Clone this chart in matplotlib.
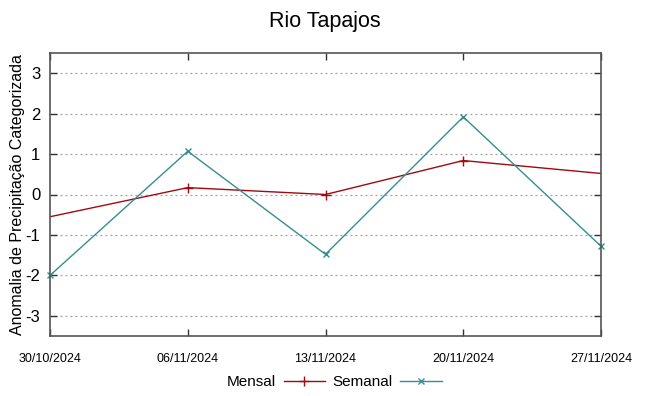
import matplotlib
matplotlib.use("Agg")
import matplotlib.pyplot as plt
import numpy as np
from datetime import datetime

plt.rcParams['font.family'] = ['Liberation Sans', 'DejaVu Sans']

dates = ["30/10/2024", "06/11/2024", "13/11/2024", "20/11/2024", "27/11/2024"]
mensal = [-0.55, 0.17, 0.0, 0.84, 0.52]
semanal = [-2.0, 1.07, -1.48, 1.92, -1.28]
yticks = [-3, -2, -1, 0, 1, 2, 3]

x = [datetime.strptime(d, "%d/%m/%Y") for d in dates]

fig = plt.figure(figsize=(6.49, 3.96), dpi=100)
ax = fig.add_axes([50/649, 60/396, 551/649, 283/396])

ax.plot(x, mensal, color='#a00a10', lw=1.0, marker='+', ms=6.5, mew=1.0,
        markevery=[1, 2, 3], label='Mensal')
ax.plot(x, semanal, color='#358e92', lw=1.0, marker='x', ms=5, mew=1.0,
        label='Semanal', clip_on=False)

ax.set_xlim(x[0], x[-1])
ax.set_ylim(-3.5, 3.5)
ax.set_yticks(yticks)
ax.set_yticklabels([str(v) for v in yticks], fontsize=12)
ax.set_xticks(x)
ax.set_xticklabels(dates, fontsize=9)
ax.yaxis.grid(True, linestyle=(0, (1.5, 2.5)), color='#a0a0a0', lw=0.9)
ax.tick_params(direction='in', length=5, top=True, right=True, width=1.0, color='#333333')
ax.tick_params(axis='x', pad=12)
ax.tick_params(axis='y', pad=7)
for s in ax.spines.values():
    s.set_color('#555555')
    s.set_linewidth(1.2)

ax.set_ylabel('Anomalia de Precipitação Categorizada', fontsize=11.5)
ax.yaxis.set_label_coords((25 - 50) / 551, 0.5)
fig.suptitle('Rio Tapajos', fontsize=15.5, y=0.972)

leg = fig.legend(loc='center', bbox_to_anchor=(0.515, 1 - 382/396), ncol=2,
                 frameon=False, markerfirst=False, fontsize=11, handlelength=2.7,
                 columnspacing=0.5, handletextpad=0.5)

fig.savefig('out.png', dpi=100)
